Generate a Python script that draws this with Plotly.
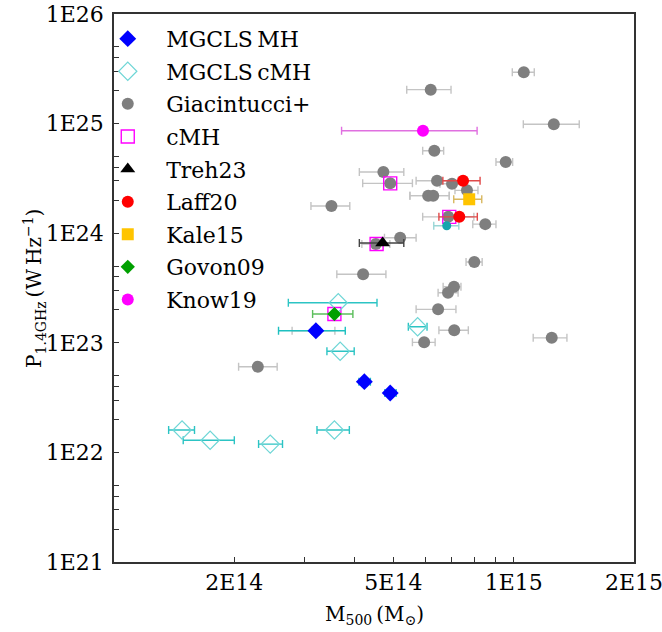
import plotly.graph_objects as go

# ---------------- data ----------------
# Giacintucci+ sample: M500 (Msun), lower / upper mass bounds, P1.4GHz (W/Hz)
gia_m  = [10.6e14, 6.20e14, 12.6e14, 6.33e14, 9.55e14, 4.72e14, 4.91e14, 6.43e14, 7.01e14,
          7.64e14, 6.11e14, 6.29e14, 3.50e14, 6.86e14, 8.49e14, 5.20e14, 4.52e14, 7.97e14,
          4.20e14, 7.09e14, 6.85e14, 6.47e14, 7.10e14, 12.45e14, 5.97e14, 2.29e14, 3.20e14]
gia_lo = [9.92e14, 5.40e14, 10.57e14, 5.92e14, 9.03e14, 4.11e14, 4.19e14, 5.70e14, 6.54e14,
          7.13e14, 5.50e14, 5.50e14, 3.11e14, 5.92e14, 7.90e14, 4.75e14, 4.17e14, 7.60e14,
          3.61e14, 6.66e14, 6.47e14, 5.70e14, 6.50e14, 11.19e14, 5.58e14, 2.05e14, 2.79e14]
gia_hi = [11.26e14, 6.97e14, 14.59e14, 6.68e14, 9.94e14, 5.31e14, 5.58e14, 7.26e14, 7.51e14,
          8.14e14, 6.90e14, 6.90e14, 3.89e14, 7.95e14, 9.03e14, 5.70e14, 4.90e14, 8.34e14,
          4.79e14, 7.38e14, 7.26e14, 7.17e14, 7.70e14, 13.59e14, 6.36e14, 2.56e14, 3.57e14]
gia_p  = [2.94e25, 2.04e25, 9.85e24, 5.66e24, 4.46e24, 3.62e24, 2.85e24, 3.01e24, 2.83e24,
          2.46e24, 2.20e24, 2.20e24, 1.77e24, 1.41e24, 1.21e24, 9.10e23, 7.97e23, 5.46e23,
          4.22e23, 3.25e23, 2.86e23, 2.02e23, 1.30e23, 1.11e23, 1.01e23, 6.05e22, 1.29e23]

# MGCLS mini-halos
mh_m  = [3.20e14, 4.23e14, 4.91e14]
mh_lo = [2.58e14, 4.10e14, 4.76e14]
mh_hi = [3.79e14, 4.38e14, 5.08e14]
mh_p  = [1.29e23, 4.42e22, 3.48e22]

# MGCLS candidate mini-halos
cmh_m  = [3.64e14, 5.75e14, 3.68e14, 1.48e14, 1.74e14, 3.56e14, 2.46e14]
cmh_lo = [2.73e14, 5.45e14, 3.41e14, 1.37e14, 1.49e14, 3.22e14, 2.30e14]
cmh_hi = [4.55e14, 6.07e14, 3.99e14, 1.59e14, 2.00e14, 3.88e14, 2.64e14]
cmh_p  = [2.32e23, 1.40e23, 8.37e22, 1.60e22, 1.29e22, 1.60e22, 1.19e22]

# MGCLS extra source
ext_m, ext_lo, ext_hi, ext_p = [6.80e14], [6.31e14], [7.29e14], [1.17e24]

# candidate mini-halos from the literature
lit_cmh_m = [4.91e14, 6.90e14, 4.54e14, 3.56e14]
lit_cmh_p = [2.85e24, 1.41e24, 7.97e23, 1.83e23]

treh_m, treh_lo, treh_hi, treh_p = [4.70e14], [4.11e14], [5.31e14], [8.14e23]
laff_m  = [7.47e14, 7.31e14]
laff_lo = [6.65e14, 6.50e14]
laff_hi = [8.24e14, 8.11e14]
laff_p  = [3.01e24, 1.41e24]
kale_m, kale_lo, kale_hi, kale_p = [7.74e14], [7.08e14], [8.32e14], [2.04e24]
govo_m, govo_lo, govo_hi, govo_p = [3.56e14], [3.14e14], [3.96e14], [1.83e23]
know_m, know_lo, know_hi, know_p = [5.93e14], [3.71e14], [8.10e14], [8.61e24]

x_ticks = [2e14, 5e14, 1e15, 2e15]
x_labels = ["2E14", "5E14", "1E15", "2E15"]
x_minor = [3e14, 4e14, 6e14, 7e14, 8e14, 9e14]
y_ticks = [1e21, 1e22, 1e23, 1e24, 1e25, 1e26]
y_labels = ["1E21", "1E22", "1E23", "1E24", "1E25", "1E26"]
y_minor = [m * 10.0 ** d for d in range(21, 26) for m in (2, 3, 4, 5)]

FONT = "DejaVu Serif, serif"
FS = 22
PAD = "\u00a0\u00a0\u2009"


def xerr(m, lo, hi, color, width=4, thick=1.4):
    return dict(type="data", symmetric=False,
                array=[h - v for v, h in zip(m, hi)],
                arrayminus=[v - l for v, l in zip(m, lo)],
                color=color, thickness=thick, width=width)


fig = go.Figure()

fig.add_trace(go.Scatter(
    x=gia_m, y=gia_p, mode="markers", name=PAD + "Giacintucci+", legendrank=3, legendgroup="g3",
    marker=dict(symbol="circle", size=12, color="#7f7f7f"),
    error_x=xerr(gia_m, gia_lo, gia_hi, "#c4c4c4")))

fig.add_trace(go.Scatter(
    x=lit_cmh_m, y=lit_cmh_p, mode="markers", name=PAD + "cMH", legendrank=4, legendgroup="g4",
    marker=dict(symbol="square-open", size=13, color="#ff00ff", line=dict(width=1.4))))

fig.add_trace(go.Scatter(
    x=cmh_m, y=cmh_p, mode="markers", name=PAD + "MGCLS\u2009cMH", legendrank=2, legendgroup="g2",
    marker=dict(symbol="diamond-open", size=14, color="#6fd6d6", line=dict(width=1.2)),
    error_x=xerr(cmh_m, cmh_lo, cmh_hi, "#2cc4c4")))

fig.add_trace(go.Scatter(
    x=ext_m, y=ext_p, mode="markers", showlegend=False,
    marker=dict(symbol="circle", size=9, color="#16a5ad"),
    error_x=xerr(ext_m, ext_lo, ext_hi, "#9ad6d6")))

fig.add_trace(go.Scatter(
    x=mh_m, y=mh_p, mode="markers", name=PAD + "MGCLS\u2009MH", legendrank=1, legendgroup="g1",
    marker=dict(symbol="diamond", size=13, color="#0000ff"),
    error_x=xerr(mh_m, mh_lo, mh_hi, "#1ec0c0")))

fig.add_trace(go.Scatter(
    x=treh_m, y=treh_p, mode="markers", name=PAD + "Treh23", legendrank=5, legendgroup="g5",
    marker=dict(symbol="triangle-up", size=13, color="#000000"),
    error_x=xerr(treh_m, treh_lo, treh_hi, "#444444")))

fig.add_trace(go.Scatter(
    x=laff_m, y=laff_p, mode="markers", name=PAD + "Laff20", legendrank=6, legendgroup="g6",
    marker=dict(symbol="circle", size=12, color="#ff0000"),
    error_x=xerr(laff_m, laff_lo, laff_hi, "#e04a4a")))

fig.add_trace(go.Scatter(
    x=kale_m, y=kale_p, mode="markers", name=PAD + "Kale15", legendrank=7, legendgroup="g7",
    marker=dict(symbol="square", size=12, color="#ffc400"),
    error_x=xerr(kale_m, kale_lo, kale_hi, "#d8b860")))

fig.add_trace(go.Scatter(
    x=govo_m, y=govo_p, mode="markers", name=PAD + "Govon09", legendrank=8, legendgroup="g8",
    marker=dict(symbol="diamond", size=11, color="#00a000"),
    error_x=xerr(govo_m, govo_lo, govo_hi, "#5cbf5c")))

fig.add_trace(go.Scatter(
    x=know_m, y=know_p, mode="markers", name=PAD + "Know19", legendrank=9, legendgroup="g9",
    marker=dict(symbol="circle", size=12, color="#ff00ff"),
    error_x=xerr(know_m, know_lo, know_hi, "#e070e0")))

axis_common = dict(
    type="log", showgrid=False, zeroline=False,
    showline=True, mirror=True, linecolor="#333333", linewidth=1.5,
    ticks="inside", ticklen=5, tickwidth=1.2, tickcolor="#333333",
    tickfont=dict(family=FONT, size=FS, color="#000000"),
    ticklabeloverflow="allow",
)

fig.update_layout(
    width=662, height=632,
    margin=dict(l=114, r=28, t=14, b=70, autoexpand=False),
    paper_bgcolor="white", plot_bgcolor="white",
    font=dict(family=FONT, size=FS, color="#000000"),
    xaxis=dict(axis_common, range=[14, 15.30103], tickmode="array",
               tickvals=x_ticks, ticktext=x_labels, ticklabelstandoff=0,
               minor=dict(tickmode="array", tickvals=x_minor, ticks="inside",
                          ticklen=5, tickwidth=1.2, tickcolor="#333333", showgrid=False)),
    yaxis=dict(axis_common, range=[21, 26], tickmode="array",
               tickvals=y_ticks, ticktext=y_labels, ticklabelstandoff=4,
               minor=dict(tickmode="array", tickvals=y_minor, ticks="inside",
                          ticklen=5, tickwidth=1.2, tickcolor="#333333", showgrid=False)),
    legend=dict(x=-0.012, y=0.993, xanchor="left", yanchor="top",
                bgcolor="rgba(0,0,0,0)", borderwidth=0,
                font=dict(family=FONT, size=FS, color="#000000"),
                tracegroupgap=1),
    showlegend=True,
    annotations=[
        dict(text="M<sub>500</sub>\u2009(M<sub>\u2299</sub>)", xref="paper", yref="paper",
             x=0.5, y=-0.097, xanchor="center", yanchor="middle", showarrow=False,
             font=dict(family=FONT, size=20)),
        dict(text="P<sub>1.4GHz</sub>\u2009(W\u2009Hz<sup>\u22121</sup>)", xref="paper", yref="paper",
             x=-0.154, y=0.5, xanchor="center", yanchor="middle", textangle=-90,
             showarrow=False, font=dict(family=FONT, size=20)),
    ],
)

fig.write_html("out.html")
